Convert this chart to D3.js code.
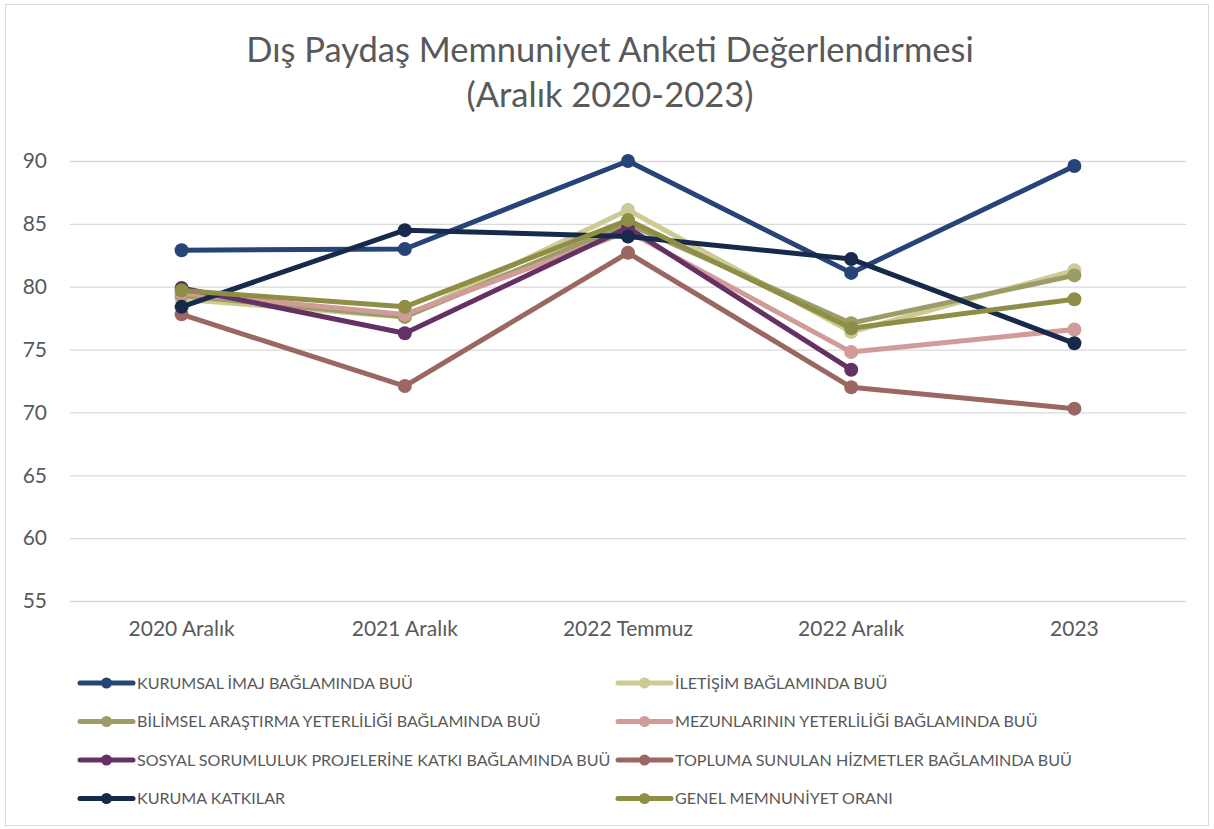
<!DOCTYPE html>
<html>
<head>
<meta charset="utf-8">
<script src="https://cdn.jsdelivr.net/npm/d3@7"></script>
<style>
  body { margin: 0; background: #fff; }
  text { font-family: Lato, "Open Sans", sans-serif; fill: #595959; }
</style>
</head>
<body>
<div id="chart"></div>
<script>
// categories and values
const categories = ['2020 Aralık', '2021 Aralık', '2022 Temmuz', '2022 Aralık', '2023'];
const yTicks = [55, 60, 65, 70, 75, 80, 85, 90];

const seriesNames = [
  'KURUMSAL İMAJ BAĞLAMINDA BUÜ',
  'İLETİŞİM BAĞLAMINDA BUÜ',
  'BİLİMSEL ARAŞTIRMA YETERLİLİĞİ BAĞLAMINDA BUÜ',
  'MEZUNLARININ YETERLİLİĞİ BAĞLAMINDA BUÜ',
  'SOSYAL SORUMLULUK PROJELERİNE KATKI BAĞLAMINDA BUÜ',
  'TOPLUMA SUNULAN HİZMETLER BAĞLAMINDA BUÜ',
  'KURUMA KATKILAR',
  'GENEL MEMNUNİYET ORANI'
];
const kurumsalImaj = [82.9, 83.0, 90.0, 81.1, 89.6];
const iletisim     = [79.0, 77.6, 86.1, 76.4, 81.3];
const bilimsel     = [79.3, 77.6, 85.0, 77.1, 80.9];
const mezunlar     = [79.5, 77.8, 84.4, 74.8, 76.6];
const sosyal       = [79.9, 76.3, 84.7, 73.4, null];
const topluma      = [77.8, 72.1, 82.7, 72.0, 70.3];
const kurumaKatki  = [78.4, 84.5, 84.0, 82.2, 75.5];
const genel        = [79.7, 78.4, 85.3, 76.7, 79.0];

const seriesValues = [kurumsalImaj, iletisim, bilimsel, mezunlar, sosyal, topluma, kurumaKatki, genel];
const colors = ['#264478', '#cbcb93', '#9c9c69', '#d09b98', '#653063', '#9b6763', '#172a4b', '#8e8e46'];

const W = 1214, H = 829;
const plot = {left: 70, right: 1186, top: 161, bottom: 601};

const svg = d3.select('#chart').append('svg')
  .attr('width', W)
  .attr('height', H);

// outer chart border
svg.append('rect')
  .attr('x', 5.5).attr('y', 4.5)
  .attr('width', 1203).attr('height', 821)
  .attr('fill', '#fff')
  .attr('stroke', '#d9d9d9')
  .attr('stroke-width', 1);

// title
svg.append('text')
  .attr('x', 610).attr('y', 62)
  .attr('text-anchor', 'middle')
  .style('font-size', '34.5px')
  .text('Dış Paydaş Memnuniyet Anketi Değerlendirmesi');
svg.append('text')
  .attr('x', 610).attr('y', 107)
  .attr('text-anchor', 'middle')
  .style('font-size', '34.5px')
  .text('(Aralık 2020-2023)');

const x = d3.scaleBand().domain(categories).range([plot.left, plot.right]);
const y = d3.scaleLinear().domain([55, 90]).range([plot.bottom, plot.top]);

// gridlines + y labels
const yAxis = svg.append('g')
  .attr('transform', `translate(${plot.left},0)`)
  .call(d3.axisLeft(y).tickValues(yTicks).tickSize(-(plot.right - plot.left)).tickPadding(23));
yAxis.select('.domain').remove();
yAxis.selectAll('.tick line').attr('stroke', '#d9d9d9').attr('stroke-width', 1.3);
yAxis.selectAll('.tick text')
  .style('font-size', '21px')
  .style('font-family', 'Lato, "Open Sans", sans-serif')
  .attr('fill', '#595959');

// x labels
const xAxis = svg.append('g')
  .attr('transform', `translate(0,${plot.bottom})`)
  .call(d3.axisBottom(x).tickSize(0).tickPadding(20));
xAxis.select('.domain').remove();
xAxis.selectAll('.tick text')
  .style('font-size', '21px')
  .style('font-family', 'Lato, "Open Sans", sans-serif')
  .attr('fill', '#595959');

const cx = d => x(d) + x.bandwidth() / 2;
const line = d3.line()
  .defined(d => d.v != null)
  .x(d => cx(d.c))
  .y(d => y(d.v));

seriesValues.forEach((vals, i) => {
  const pts = vals.map((v, j) => ({c: categories[j], v: v}));
  const g = svg.append('g');
  g.append('path')
    .datum(pts)
    .attr('d', line)
    .attr('fill', 'none')
    .attr('stroke', colors[i])
    .attr('stroke-width', 5)
    .attr('stroke-linejoin', 'round');
  g.selectAll('circle').data(pts.filter(d => d.v != null)).enter()
    .append('circle')
    .attr('cx', d => cx(d.c))
    .attr('cy', d => y(d.v))
    .attr('r', 7)
    .attr('fill', colors[i]);
});

// legend, two columns
const legend = svg.append('g');
seriesNames.forEach((name, i) => {
  const col = i % 2, row = Math.floor(i / 2);
  const lx = col === 0 ? 80 : 618;
  const ly = 683 + row * 38.5;
  const item = legend.append('g').attr('transform', `translate(${lx},${ly})`);
  item.append('line')
    .attr('x1', 0).attr('x2', 53)
    .attr('y1', 0).attr('y2', 0)
    .attr('stroke', colors[i])
    .attr('stroke-width', 5)
    .attr('stroke-linecap', 'round');
  item.append('circle')
    .attr('cx', 26.5).attr('cy', 0).attr('r', 5.5)
    .attr('fill', colors[i]);
  item.append('text')
    .attr('x', 57).attr('y', 0)
    .attr('dy', '0.35em')
    .style('font-size', '16.1px')
    .text(name);
});
</script>
</body>
</html>
